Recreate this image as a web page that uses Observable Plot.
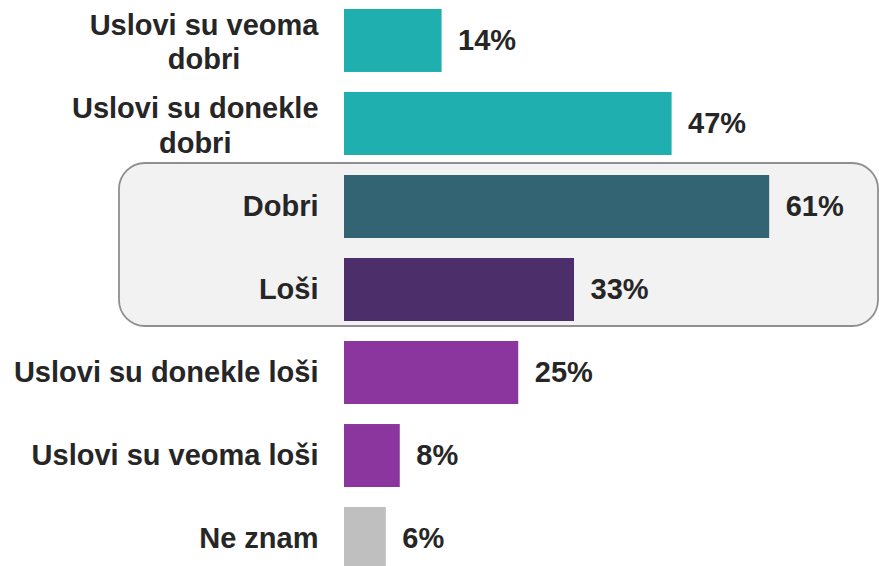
<!DOCTYPE html>
<html><head><meta charset="utf-8">
<script src="https://cdn.jsdelivr.net/npm/d3@7"></script>
<script src="https://cdn.jsdelivr.net/npm/@observablehq/plot@0.6"></script>
<style>html,body{margin:0;padding:0;background:#fff} svg{display:block}</style>
</head><body><div id="chart"></div>
<script>
// ---- data ----
const categories = [
  "Uslovi su veoma\ndobri",
  "Uslovi su donekle\ndobri",
  "Dobri",
  "Loši",
  "Uslovi su donekle loši",
  "Uslovi su veoma loši",
  "Ne znam"
];
const values = [14, 47, 61, 33, 25, 8, 6];
const valueLabels = values.map(v => v + "%");
const palette = ["#1EAFAE", "#1EAFAE", "#336474", "#4B2E6A", "#8A369E", "#8A369E", "#BFBFBF"];
const highlighted = ["Dobri", "Loši"];

(function () {
// ---- layout / style ----
const W = 879, H = 566;
const FONT = "'Liberation Sans', Arial, Helvetica, sans-serif";
const FS = 29;
const INK = "#262626";
const xRange = [344, 1041];
const yRange = [0, 579];
const padIn = 0.241, padOut = 0.108;

const rows = categories.map((c, i) => ({cat: c, value: values[i], label: valueLabels[i], color: palette[i]}));
const single = rows.filter(r => !r.cat.includes("\n"));
const multi = rows.filter(r => r.cat.includes("\n"));

const ctx = document.createElement("canvas").getContext("2d");
ctx.font = `bold ${FS}px ${FONT}`;

const labelGap = 26;
const multiMarks = multi.map(r => {
  const w1 = ctx.measureText(r.cat.split("\n")[0]).width;
  return Plot.text([r], {
    x: d => 0, y: "cat", text: "cat",
    textAnchor: "middle", dx: -labelGap - w1 / 2,
    lineHeight: 1.2,
    fontSize: FS, fontWeight: "bold", fill: INK
  });
});

const plot = Plot.plot({
  width: W, height: H,
  marginTop: 0, marginBottom: 0, marginLeft: 0, marginRight: 0,
  style: {fontFamily: FONT, background: "transparent", overflow: "hidden"},
  x: {domain: [0, 100], range: xRange, axis: null},
  y: {domain: categories, range: yRange, paddingInner: padIn, paddingOuter: padOut, round: false, axis: null},
  color: {type: "identity"},
  marks: [
    Plot.barX(rows, {x: "value", y: "cat", fill: "color"}),
    Plot.text(rows, {x: "value", y: "cat", text: "label", textAnchor: "start", dx: 16,
      fontSize: FS, fontWeight: "bold", fill: INK}),
    Plot.text(single, {x: d => 0, y: "cat", text: "cat", textAnchor: "end", dx: -labelGap,
      fontSize: FS, fontWeight: "bold", fill: INK}),
    ...multiMarks
  ]
});

// highlight box around "Dobri" / "Loši"
const yb = d3.scaleBand(categories, yRange).paddingInner(padIn).paddingOuter(padOut);
const xl = d3.scaleLinear([0, 100], xRange);
const boxTop = yb(highlighted[0]) - 12;
const boxBottom = yb(highlighted[1]) + yb.bandwidth() + 5;
const boxLeft = xl(0) - 225;
d3.select(plot).insert("rect", ":first-child")
  .attr("x", boxLeft).attr("y", boxTop)
  .attr("width", W - 1 - boxLeft).attr("height", boxBottom - boxTop)
  .attr("rx", 26).attr("ry", 26)
  .attr("fill", "#F2F2F2").attr("stroke", "#8F8F8F").attr("stroke-width", 1.8);

document.getElementById("chart").appendChild(plot);
})();
</script>
</body></html>
